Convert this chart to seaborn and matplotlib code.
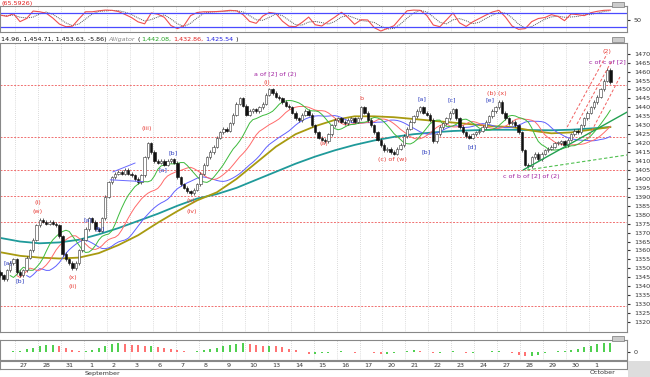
import numpy as np
import pandas as pd
import matplotlib
matplotlib.use("Agg")
import matplotlib.pyplot as plt
import seaborn as sns

# ---- data ----
# hourly closes, one list per trading day (first list = tail of the day before the 27th)
closes_by_day = [
    [1346, 1344, 1349, 1353, 1355],
    [1348, 1346, 1349, 1356, 1360, 1366, 1374],
    [1377, 1376, 1375, 1376, 1375, 1374, 1368],
    [1358, 1355, 1353, 1350, 1353, 1360, 1366],
    [1372, 1378, 1376, 1372, 1371, 1378, 1390],
    [1398, 1401, 1403, 1404, 1403, 1405, 1403],
    [1402, 1400, 1398, 1402, 1412, 1420, 1415],
    [1410, 1409, 1410, 1408, 1410, 1411, 1409],
    [1401, 1397, 1395, 1393, 1392, 1394, 1397],
    [1403, 1408, 1412, 1415, 1418, 1423, 1426],
    [1428, 1427, 1431, 1436, 1442, 1445, 1441],
    [1436, 1438, 1439, 1438, 1440, 1442, 1447],
    [1450, 1448, 1446, 1445, 1443, 1441, 1440],
    [1437, 1434, 1433, 1436, 1438, 1436, 1430],
    [1426, 1423, 1422, 1421, 1425, 1430, 1433],
    [1434, 1432, 1431, 1433, 1434, 1432, 1434],
    [1440, 1437, 1433, 1430, 1426, 1422, 1419],
    [1416, 1417, 1415, 1414, 1417, 1419, 1424],
    [1428, 1432, 1435, 1438, 1440, 1437, 1436],
    [1433, 1421, 1425, 1429, 1431, 1434, 1437],
    [1439, 1434, 1429, 1426, 1424, 1423, 1425],
    [1426, 1427, 1429, 1432, 1435, 1438, 1440],
    [1443, 1437, 1434, 1431, 1432, 1430, 1426],
    [1416, 1408, 1407, 1412, 1414, 1411, 1414],
    [1416, 1417, 1418, 1420, 1420, 1421, 1419],
    [1422, 1425, 1427, 1426, 1430, 1434, 1437],
    [1440, 1443, 1446, 1450, 1455, 1461, 1454],
]
first_open = 1348
day_labels = ["27", "28", "31", "1", "2", "3", "6", "7", "8", "9", "10", "13", "14",
              "15", "16", "17", "20", "21", "22", "23", "24", "27", "28", "29", "30", "1"]
month_labels = {"September": 3, "October": 25}

# stochastic %K, sampled every second bar
osc_k = [70, 65, 76, 43, 56, 87, 84, 78, 58, 33, 22, 24, 55, 84, 84, 88, 91, 90, 85, 73,
         60, 42, 34, 79, 74, 61, 27, 14, 27, 68, 81, 84, 84, 85, 87, 90, 88, 72, 44, 36,
         66, 81, 77, 45, 24, 22, 40, 62, 30, 25, 44, 62, 82, 60, 32, 51, 50, 18, 4, 15,
         26, 58, 88, 91, 90, 69, 29, 22, 50, 79, 38, 23, 42, 56, 70, 83, 90, 62, 25, 11,
         14, 43, 56, 60, 72, 65, 47, 75, 72, 68, 80, 86, 90, 91]

# MACD histogram, sampled every second bar
macd_hist = [1, 0.5, 1, 1.5, 3, 4.5, 6, 7, 7.5, 6.5, 4.5, 2.5, 1, 1, 2, 4, 6, 8, 9, 8.5,
             7.5, 7, 6.5, 6.5, 5.5, 4, 3, 2, 1, 0.5, 1, 2, 3, 4.5, 6, 7, 8.5, 9, 8, 7,
             6.5, 6.5, 6, 5, 3.5, 2, 0.5, -1.5, -1.5, -1, -0.5, 0.5, 1, 0.5, -0.5, 0.5, 0.5, -1, -1.5, -1.5,
             -1, 0.5, 1.5, 2, 1.5, 0.5, -0.5, -0.5, 0.5, 1, 0.5, -0.5, -0.5, 0.5, 0.5, 1, 1.5, 0.5, -1, -2.5,
             -3.5, -3.5, -2.5, -1, 0.5, 1, 1, 2, 3.5, 5, 6.5, 8, 9, 9.5]

# long moving averages, sampled every sixth bar
teal_ma = [1367, 1365, 1364, 1364.5, 1366, 1369, 1372.5, 1376.5, 1380.5, 1385, 1389, 1391.5,
           1395, 1399.5, 1404, 1408.5, 1412.5, 1416, 1419, 1421.5, 1423.5, 1425, 1426, 1426.8,
           1427.2, 1427.5, 1427.5, 1427.3, 1427.2, 1427.5, 1428.2, 1429]
olive_ma = [1359, 1357, 1356, 1355.5, 1356, 1358.5, 1363, 1368.5, 1375.5, 1382, 1388, 1392.5,
            1400, 1409, 1418, 1425, 1429.5, 1433, 1435, 1435, 1434.5, 1433.5, 1432.5, 1431.5,
            1430.5, 1429.5, 1429, 1427, 1425.5, 1426, 1427.5, 1429]

support_levels = [1452.5, 1423.3, 1405, 1390.5, 1376, 1329]

# hand drawn trend lines: (bar, price) start and end
green_trend = [(159.4, 1405), (191.1, 1437.4)]
green_dash = [(160.6, 1405), (191.1, 1413.4)]
red_channel = [[(172.8, 1429), (185.0, 1470)], [(175.8, 1430.7), (186.5, 1466.3)],
               [(178.9, 1422), (188.9, 1457)]]
blue_trend = [[(34.3, 1403.9), (41.1, 1408.9)], [(33.5, 1399.5), (43.5, 1398.5)]]

wave_labels = [
    ("(i)", 11.5, 1387, "#e8403a"), ("(w)", 11.5, 1382, "#e8403a"),
    ("(x)", 22, 1345, "#e8403a"), ("(ii)", 22, 1340, "#e8403a"),
    ("(iii)", 44.7, 1428, "#e8403a"), ("(x)", 58, 1388, "#e8403a"), ("(iv)", 58.5, 1382, "#e8403a"),
    ("(i)", 81.3, 1454, "#e8403a"), ("(a)", 98.7, 1420, "#e8403a"), ("b", 110, 1445, "#e8403a"),
    ("(c) of (w)", 119.5, 1411, "#e8403a"), ("(b) (x)", 151.5, 1448, "#e8403a"),
    ("(2)", 185, 1471, "#e8403a"),
    ("a of [2] of (2)", 83.7, 1458.5, "#a020a0"), ("c of b of [2] of (2)", 161.8, 1401.5, "#a020a0"),
    ("c of c of [2]", 185.2, 1465.5, "#a020a0"),
    ("[a]", 2.3, 1353, "#3040c0"), ("[b]", 6, 1343, "#3040c0"), ("[a]", 26.7, 1377, "#3040c0"),
    ("[b]", 30.4, 1372, "#3040c0"), ("[a]", 49.6, 1405, "#3040c0"), ("[b]", 52.6, 1414.5, "#3040c0"),
    ("[a]", 128.6, 1445, "#3040c0"), ("[b]", 129.8, 1415, "#3040c0"), ("[c]", 137.7, 1444, "#3040c0"),
    ("[d]", 143.8, 1418, "#3040c0"), ("[e]", 149.3, 1444, "#3040c0"),
]

# ---- derived series ----
closes = np.concatenate([np.array(d, dtype=float) for d in closes_by_day])
n = len(closes)
bars = np.arange(n)
opens = np.concatenate([[first_open], closes[:-1]])
price = pd.Series(closes)
lips = price.ewm(alpha=1 / 5).mean().shift(3)
teeth = price.ewm(alpha=1 / 8).mean().shift(5)
jaw = price.ewm(alpha=1 / 13).mean().shift(8)

pre = len(closes_by_day[0])
day_starts = pre - 0.5 + 7 * np.arange(len(day_labels))
x_lo, x_hi = -0.1, 191.05

# ---- figure ----
sns.set_style("white")
plt.rcParams["font.family"] = ["DejaVu Sans"]
W, H = 650, 377
fig = plt.figure(figsize=(W / 100, H / 100), dpi=100)
fig.patch.set_facecolor("white")


def px_axes(top, bottom, right=627):
    return fig.add_axes([0, 1 - bottom / H, right / W, (bottom - top) / H])


def frame(ax):
    for s in ax.spines.values():
        s.set_color("#888888")
        s.set_linewidth(0.8)
    ax.set_xlim(x_lo, x_hi)
    ax.set_xticks([])
    for d in day_starts:
        ax.axvline(d, color="#bbbbbb", lw=0.5, ls=(0, (1, 2)), zorder=0)


fs = 4.6

# oscillator panel
ax_o = px_axes(6, 32)
frame(ax_o)
k = pd.Series(osc_k, dtype=float)
kx = np.arange(len(osc_k)) * 2
sns.lineplot(x=kx, y=k.rolling(3, min_periods=1).mean().values, ax=ax_o, color="#555555",
             lw=0.7, ls=(0, (1, 1)))
sns.lineplot(x=kx, y=k.values, ax=ax_o, color="#f05050", lw=0.8)
ax_o.axhline(80, color="#4a4aff", lw=0.9)
ax_o.axhline(20, color="#4a4aff", lw=0.9)
ax_o.set_ylim(0, 108)
ax_o.yaxis.tick_right()
ax_o.set_yticks([50])
ax_o.set_yticklabels(["50"], fontsize=fs)
ax_o.tick_params(axis="y", length=2, pad=3, colors="#333333")
ax_o.set_ylabel("")
fig.text(1 / W, 1 - 3 / H, "(65.5926)", color="#e02020", fontsize=fs, va="center", ha="left")

# main price panel
ax = px_axes(43, 332)
frame(ax)
for lvl in support_levels:
    ax.axhline(lvl, color="#f07070", lw=0.7, ls=(0, (2, 1.5)), zorder=1)

sns.lineplot(x=bars[::6], y=teal_ma, ax=ax, color="#1f9a9a", lw=1.3, zorder=2)
sns.lineplot(x=bars[::6], y=olive_ma, ax=ax, color="#a89a10", lw=1.3, zorder=2)
sns.lineplot(x=bars, y=jaw.values, ax=ax, color="#6060ff", lw=0.7, zorder=2)
sns.lineplot(x=bars, y=teeth.values, ax=ax, color="#ff6a6a", lw=0.7, zorder=2)
sns.lineplot(x=bars, y=lips.values, ax=ax, color="#3cba3c", lw=0.7, zorder=2)

up = closes >= opens
body_lo = np.minimum(opens, closes)
body_h = np.maximum(np.abs(closes - opens), 0.4)
ax.vlines(bars, body_lo - 0.9, body_lo + body_h + 0.9, color="#222222", lw=0.5, zorder=3)
ax.bar(bars[up], body_h[up], bottom=body_lo[up], width=0.72, color="white",
       edgecolor="#333333", linewidth=0.4, zorder=4)
ax.bar(bars[~up], body_h[~up], bottom=body_lo[~up], width=0.72, color="#111111",
       edgecolor="#111111", linewidth=0.4, zorder=4)

(x0, y0), (x1, y1) = green_trend
ax.plot([x0, x1], [y0, y1], color="#22a050", lw=1.0, zorder=5)
(x0, y0), (x1, y1) = green_dash
ax.plot([x0, x1], [y0, y1], color="#50c050", lw=0.8, ls=(0, (3, 2)), zorder=5)
for (x0, y0), (x1, y1) in red_channel:
    ax.plot([x0, x1], [y0, y1], color="#f06060", lw=0.7, ls=(0, (3, 2)), zorder=5)
for (x0, y0), (x1, y1) in blue_trend:
    ax.plot([x0, x1], [y0, y1], color="#6a6aff", lw=0.7, zorder=5)

for txt, bx, py, col in wave_labels:
    ax.text(bx, py, txt, color=col, fontsize=fs, ha="center", va="center", zorder=6)

ax.set_ylim(1314.4, 1476)
ax.yaxis.tick_right()
ticks = np.arange(1320, 1471, 5)
ax.set_yticks(ticks)
ax.set_yticklabels([str(t) for t in ticks], fontsize=fs)
ax.tick_params(axis="y", length=2, pad=3, colors="#333333")
ax.set_ylabel("")

# header of price panel, pieces laid out one after another
renderer = fig.canvas.get_renderer()
hy = 1 - 39 / H
parts = [("14.96, 1,454.71, 1,453.63, -5.86)", "#111111"), ("Alligator", "#888888"),
         ("(", "#111111"), ("1,442.08,", "#20a020"), ("1,432.86,", "#e02020"),
         ("1,425.54", "#2020e0"), (")", "#111111")]
xp = 1.0
for txt, col in parts:
    t = fig.text(xp / W, hy, txt, color=col, fontsize=fs, va="center", ha="left",
                 style="italic" if txt == "Alligator" else "normal")
    xp += t.get_window_extent(renderer).width + 2

# MACD histogram panel
ax_m = px_axes(340, 360)
frame(ax_m)
mh = np.array(macd_hist, dtype=float)
mx = np.arange(len(mh)) * 2
rising = np.concatenate([[True], np.diff(mh) >= 0])
ax_m.vlines(mx[rising], 0, mh[rising], color="#4ccf4c", lw=1.4, zorder=2)
ax_m.vlines(mx[~rising], 0, mh[~rising], color="#ff7070", lw=1.4, zorder=2)
ax_m.set_ylim(-8, 12)
ax_m.yaxis.tick_right()
ax_m.set_yticks([0])
ax_m.set_yticklabels(["0"], fontsize=fs)
ax_m.tick_params(axis="y", length=2, pad=3, colors="#333333")

# date strip
ax_d = px_axes(361, 369)
for s in ax_d.spines.values():
    s.set_color("#888888")
    s.set_linewidth(0.8)
ax_d.set_xlim(x_lo, x_hi)
ax_d.set_ylim(0, 1)
ax_d.set_yticks([])
ax_d.set_xticks(day_starts)
ax_d.set_xticklabels([])
ax_d.tick_params(axis="x", direction="in", length=3, color="#555555")
for d, lab in zip(day_starts, day_labels):
    ax_d.text(d + 1.5, 0.45, lab, fontsize=fs, color="#333333", va="center", ha="left")
for lab, idx in month_labels.items():
    fig.text((day_starts[idx] - x_lo) / (x_hi - x_lo) * 627 / W + 1 / W, 1 - 373 / H, lab,
             fontsize=fs, color="#333333", va="center", ha="left")

# small panel buttons on the right
for ytop in (1, 36, 335):
    fig.patches.append(plt.Rectangle(((612) / W, 1 - (ytop + 6) / H), 12 / W, 5 / H,
                                     transform=fig.transFigure, facecolor="#cccccc",
                                     edgecolor="#777777", lw=0.5))
fig.patches.append(plt.Rectangle((628 / W, 0), 22 / W, 16 / H, transform=fig.transFigure,
                                 facecolor="#dddddd", edgecolor="none", hatch="....", lw=0))

fig.savefig("out.png", dpi=100, facecolor="white")
